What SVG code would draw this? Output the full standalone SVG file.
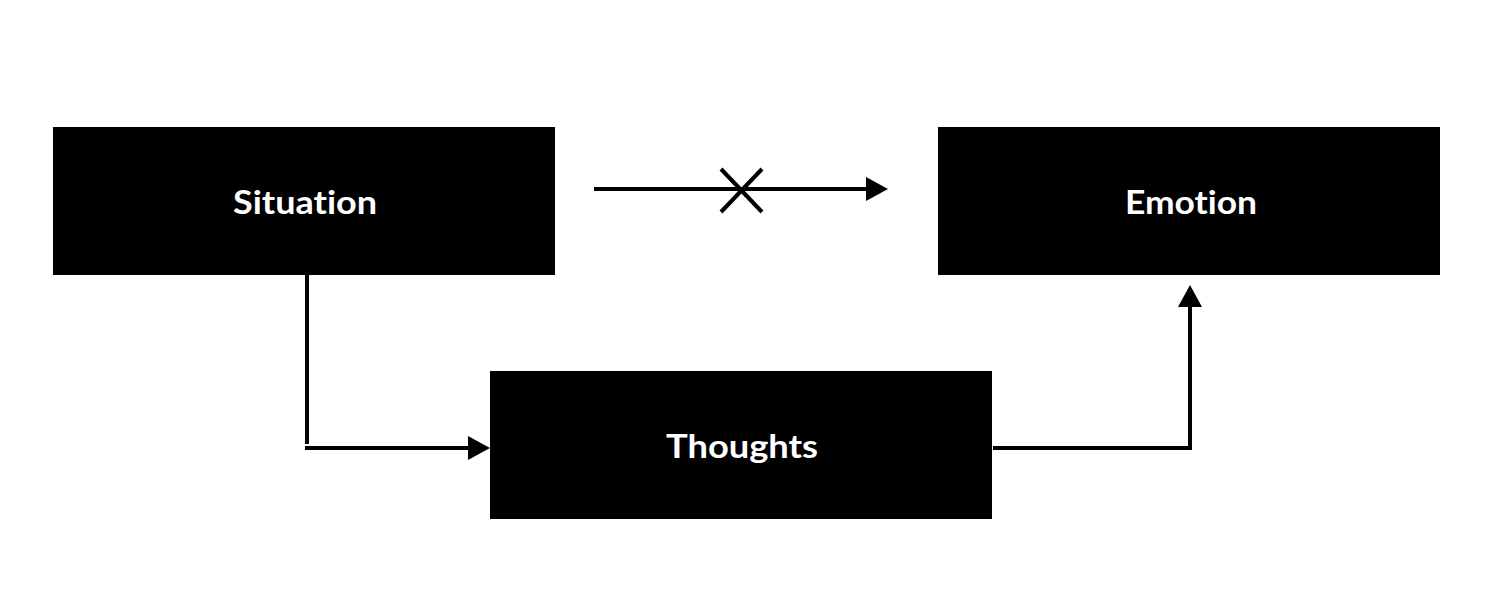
<svg xmlns="http://www.w3.org/2000/svg" width="1500" height="614" viewBox="0 0 1500 614">
  <style>
    .box { fill: #000; }
    .label { fill: #fff; font-family: "Lato", "Open Sans", "Liberation Sans", sans-serif; font-size: 33px; font-weight: 700; text-anchor: middle; font-variant-ligatures: none; font-feature-settings: "liga" 0; }
    .conn { stroke: #000; stroke-width: 4; fill: none; }
  </style>
  <defs>
    <marker id="arrow" markerWidth="22" markerHeight="24" refX="18" refY="12" orient="auto" markerUnits="userSpaceOnUse">
      <path d="M0,0 L22,12 L0,24 Z" fill="#000"/>
    </marker>
  </defs>
  <rect width="1500" height="614" fill="#fff"/>
  <g id="situation">
    <rect class="box" x="53" y="127" width="502" height="148"/>
    <text class="label" x="305" y="214" textLength="144" lengthAdjust="spacingAndGlyphs">Situation</text>
  </g>
  <g id="emotion">
    <rect class="box" x="938" y="127" width="502" height="148"/>
    <text class="label" x="1191" y="214" textLength="132" lengthAdjust="spacingAndGlyphs">Emotion</text>
  </g>
  <g id="thoughts">
    <rect class="box" x="490" y="371" width="502" height="148"/>
    <text class="label" x="742" y="458" textLength="152" lengthAdjust="spacingAndGlyphs">Thoughts</text>
  </g>
  <g id="connectors">
    <line class="conn" x1="594" y1="189" x2="884" y2="189" marker-end="url(#arrow)"/>
    <line class="conn" x1="721" y1="169" x2="762" y2="212"/>
    <line class="conn" x1="762" y1="169" x2="721" y2="212"/>
    <line class="conn" x1="307" y1="275" x2="307" y2="444"/>
    <line class="conn" x1="305" y1="448" x2="486" y2="448" marker-end="url(#arrow)"/>
    <polyline class="conn" points="993,448 1190,448 1190,289" marker-end="url(#arrow)"/>
  </g>
</svg>
